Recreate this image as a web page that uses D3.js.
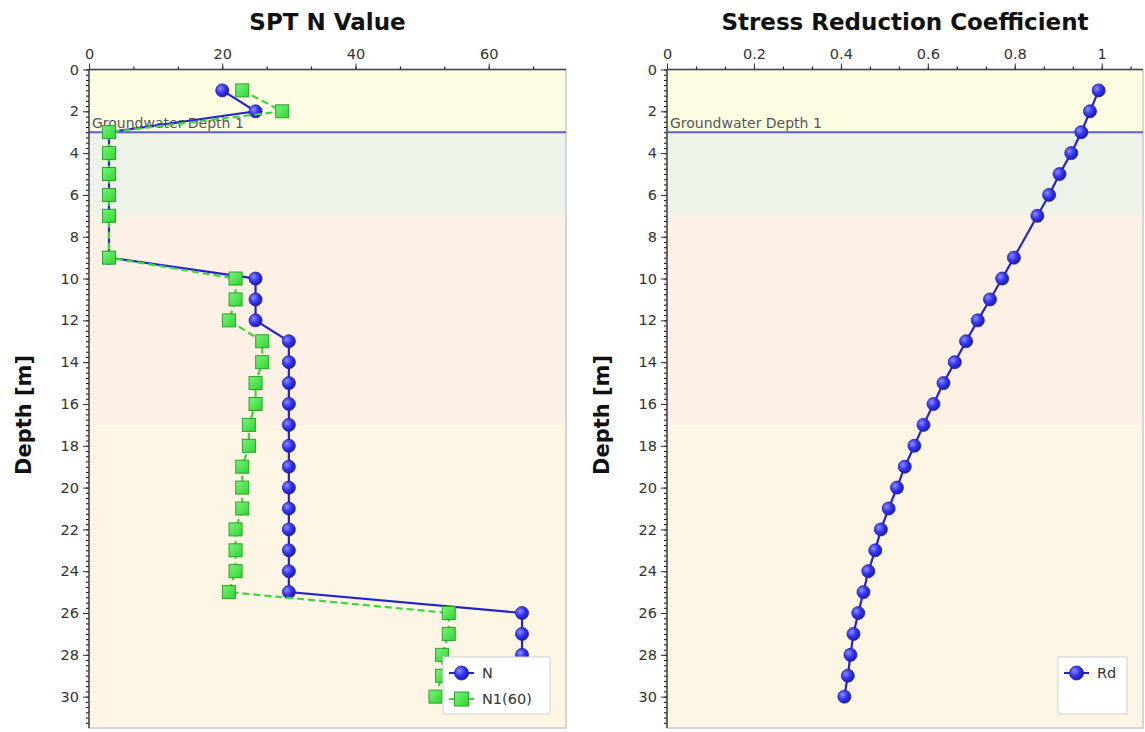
<!DOCTYPE html>
<html>
<head>
<meta charset="utf-8">
<script src="https://cdn.jsdelivr.net/npm/d3@7"></script>
<style>
    body { margin: 0; background: #ffffff; }
    svg { display: block; }
    text { font-family: "DejaVu Sans", Verdana, sans-serif; }
</style>
</head>
<body>
<div id="chart"></div>
<script>
// depths (no reading at 8 m)
var depths = [1, 2, 3, 4, 5, 6, 7, 9, 10, 11, 12, 13, 14, 15, 16, 17, 18, 19, 20, 21, 22, 23, 24, 25, 26, 27, 28, 29, 30];
var nValues = [20, 25, 3, 3, 3, 3, 3, 3, 25, 25, 25, 30, 30, 30, 30, 30, 30, 30, 30, 30, 30, 30, 30, 30, 65, 65, 65, 65, 65];
var n160Values = [23, 29, 3, 3, 3, 3, 3, 3, 22, 22, 21, 26, 26, 25, 25, 24, 24, 23, 23, 23, 22, 22, 22, 21, 54, 54, 53, 53, 52];
var rdValues = [0.993, 0.973, 0.953, 0.930, 0.903, 0.879, 0.852, 0.798, 0.771, 0.743, 0.715, 0.688, 0.662, 0.636, 0.613,
    0.590, 0.569, 0.547, 0.529, 0.510, 0.492, 0.479, 0.463, 0.452, 0.440, 0.429, 0.422, 0.416, 0.408];

// soil layers drawn as background bands
var layerTops = [0, 3, 7, 17];
var layerBottoms = [3, 7, 17, 31.5];
var layerColors = ["#fefde4", "#eef3ea", "#fdf0e4", "#fdf6e5"];

var groundwaterDepth = 3;
var groundwaterLabel = "Groundwater Depth 1";

var svg = d3.select("#chart")
    .append("svg")
    .attr("width", 1145)
    .attr("height", 732);

var defs = svg.append("defs");

var blueGrad = defs.append("radialGradient")
    .attr("id", "blueBall")
    .attr("cx", "35%").attr("cy", "35%").attr("r", "65%");
blueGrad.append("stop").attr("offset", "0%").attr("stop-color", "#8c8cff");
blueGrad.append("stop").attr("offset", "55%").attr("stop-color", "#3636f0");
blueGrad.append("stop").attr("offset", "100%").attr("stop-color", "#1c1cb8");

var greenGrad = defs.append("linearGradient")
    .attr("id", "greenBox")
    .attr("x1", "0").attr("y1", "0").attr("x2", "1").attr("y2", "1");
greenGrad.append("stop").attr("offset", "0%").attr("stop-color", "#7af27a");
greenGrad.append("stop").attr("offset", "100%").attr("stop-color", "#2fd62f");

function drawPanel(opts) {
    var x = d3.scaleLinear()
        .domain([0, opts.xMax])
        .range([opts.left, opts.right]);

    var y = d3.scaleLinear()
        .domain([0, 31.5])
        .range([69.5, 728]);

    var g = svg.append("g");

    // background bands
    g.selectAll("rect.band")
        .data(layerTops)
        .enter()
        .append("rect")
        .attr("class", "band")
        .attr("x", opts.left)
        .attr("y", function (d) { return y(d); })
        .attr("width", opts.right - opts.left)
        .attr("height", function (d, i) { return y(layerBottoms[i]) - y(d); })
        .style("fill", function (d, i) { return layerColors[i]; });

    // plot frame
    g.append("rect")
        .attr("x", opts.left)
        .attr("y", y(0))
        .attr("width", opts.right - opts.left)
        .attr("height", y(31.5) - y(0))
        .style("fill", "none")
        .style("stroke", "#c9c9c9")
        .style("stroke-width", 1.5);

    // groundwater line
    g.append("line")
        .attr("x1", opts.left)
        .attr("x2", opts.right)
        .attr("y1", y(groundwaterDepth))
        .attr("y2", y(groundwaterDepth))
        .style("stroke", "#5b5fd2")
        .style("stroke-width", 2);

    g.append("text")
        .attr("x", opts.left + 3)
        .attr("y", y(groundwaterDepth) - 4)
        .text(groundwaterLabel)
        .style("font-size", "14px")
        .style("fill", "#555555");

    // top axis
    var xAxis = d3.axisTop(x)
        .tickValues(opts.majorTicks)
        .tickFormat(opts.fmt)
        .tickSize(6)
        .tickSizeOuter(0)
        .tickPadding(5);

    var xMinor = d3.axisTop(x)
        .tickValues(opts.minorTicks)
        .tickFormat("")
        .tickSize(3)
        .tickSizeOuter(0);

    g.append("g")
        .attr("transform", "translate(0," + y(0) + ")")
        .call(xMinor)
        .call(function (a) { a.select(".domain").remove(); });

    var gx = g.append("g")
        .attr("transform", "translate(0," + y(0) + ")")
        .call(xAxis);
    gx.selectAll("text").style("font-size", "14.5px").style("fill", "#333");
    gx.select(".domain").attr("d", "M" + opts.left + ",0H" + opts.right).style("stroke", "#444").style("stroke-width", 1.5);
    gx.selectAll(".tick line").style("stroke", "#333");

    // left axis
    var yAxis = d3.axisLeft(y)
        .tickValues(d3.range(0, 31, 2))
        .tickSize(6)
        .tickSizeOuter(0)
        .tickPadding(4);

    var yMinor = d3.axisLeft(y)
        .tickValues(d3.range(0, 31.5, 0.25))
        .tickFormat("")
        .tickSize(3)
        .tickSizeOuter(0);

    g.append("g")
        .attr("transform", "translate(" + opts.left + ",0)")
        .call(yMinor)
        .call(function (a) { a.select(".domain").remove(); });

    var gy = g.append("g")
        .attr("transform", "translate(" + opts.left + ",0)")
        .call(yAxis);
    gy.selectAll("text").style("font-size", "14.5px").style("fill", "#333");
    gy.select(".domain").attr("d", "M0," + y(0) + "V" + y(31.5)).style("stroke", "#444").style("stroke-width", 1.5);
    gy.selectAll(".tick line").style("stroke", "#333");

    // title
    svg.append("text")
        .attr("x", (opts.left + opts.right) / 2)
        .attr("y", 30)
        .attr("text-anchor", "middle")
        .text(opts.title)
        .style("font-size", "23px")
        .style("font-weight", "bold")
        .style("fill", "#111");

    // y label
    svg.append("text")
        .attr("transform", "translate(" + (opts.left - 58) + "," + 415 + ") rotate(-90)")
        .attr("text-anchor", "middle")
        .text("Depth [m]")
        .style("font-size", "21px")
        .style("font-weight", "bold")
        .style("fill", "#111");

    return { x: x, y: y, g: g };
}

function drawCircles(panel, values, colour) {
    var line = d3.line()
        .x(function (d, i) { return panel.x(values[i]); })
        .y(function (d) { return panel.y(d); });

    panel.g.append("path")
        .datum(depths)
        .attr("d", line)
        .style("fill", "none")
        .style("stroke", "#2424c8")
        .style("stroke-width", 2.2);

    panel.g.selectAll("circle.pt" + colour)
        .data(depths)
        .enter()
        .append("circle")
        .attr("class", "pt" + colour)
        .attr("cx", function (d, i) { return panel.x(values[i]); })
        .attr("cy", function (d) { return panel.y(d); })
        .attr("r", 6.5)
        .style("fill", "url(#blueBall)")
        .style("stroke", "#2020a8")
        .style("stroke-width", 0.8);
}

function drawSquares(panel, values) {
    var line = d3.line()
        .x(function (d, i) { return panel.x(values[i]); })
        .y(function (d) { return panel.y(d); });

    panel.g.append("path")
        .datum(depths)
        .attr("d", line)
        .style("fill", "none")
        .style("stroke", "#3fd43f")
        .style("stroke-width", 2.2)
        .style("stroke-dasharray", "7,4");

    panel.g.selectAll("rect.sq")
        .data(depths)
        .enter()
        .append("rect")
        .attr("class", "sq")
        .attr("x", function (d, i) { return panel.x(values[i]) - 6.5; })
        .attr("y", function (d) { return panel.y(d) - 6.5; })
        .attr("width", 13)
        .attr("height", 13)
        .style("fill", "url(#greenBox)")
        .style("stroke", "#2ca02c")
        .style("stroke-width", 1);
}

function drawLegend(x0, y0, w, h, items) {
    var lg = svg.append("g")
        .attr("class", "legend")
        .attr("transform", "translate(" + x0 + "," + y0 + ")");

    lg.append("rect")
        .attr("width", w)
        .attr("height", h)
        .style("fill", "#ffffff")
        .style("stroke", "#cfcfcf");

    items.forEach(function (item, i) {
        var cy = 16 + i * 26;
        lg.append("line")
            .attr("x1", 6).attr("x2", 31)
            .attr("y1", cy).attr("y2", cy)
            .style("stroke", item.kind == "circle" ? "#2424c8" : "#3fd43f")
            .style("stroke-width", 2);
        if (item.kind == "circle") {
            lg.append("circle")
                .attr("cx", 18.5).attr("cy", cy).attr("r", 7)
                .style("fill", "url(#blueBall)")
                .style("stroke", "#2020a8")
                .style("stroke-width", 0.8);
        } else {
            lg.append("rect")
                .attr("x", 11.5).attr("y", cy - 7)
                .attr("width", 14).attr("height", 14)
                .style("fill", "url(#greenBox)")
                .style("stroke", "#2ca02c");
        }
        lg.append("text")
            .attr("x", 39)
            .attr("y", cy + 5)
            .text(item.label)
            .style("font-size", "14.5px")
            .style("fill", "#333");
    });
}

var sptPanel = drawPanel({
    left: 89, right: 566, xMax: 71.6,
    majorTicks: [0, 20, 40, 60],
    minorTicks: d3.range(0, 71.6, 20 / 3),
    fmt: d3.format("d"),
    title: "SPT N Value"
});

drawCircles(sptPanel, nValues, "n");
drawSquares(sptPanel, n160Values);

var rdPanel = drawPanel({
    left: 667, right: 1143, xMax: 1.095,
    majorTicks: [0, 0.2, 0.4, 0.6, 0.8, 1],
    minorTicks: d3.range(0, 1.095, 0.2 / 3),
    fmt: function (d) { return d == 0 || d == 1 ? d3.format("d")(d) : d3.format(".1f")(d); },
    title: "Stress Reduction Coefficient"
});

drawCircles(rdPanel, rdValues, "rd");

drawLegend(443, 657, 107, 57, [
    { label: "N", kind: "circle" },
    { label: "N1(60)", kind: "square" }
]);

drawLegend(1058, 657, 69, 57, [
    { label: "Rd", kind: "circle" }
]);
</script>
</body>
</html>
